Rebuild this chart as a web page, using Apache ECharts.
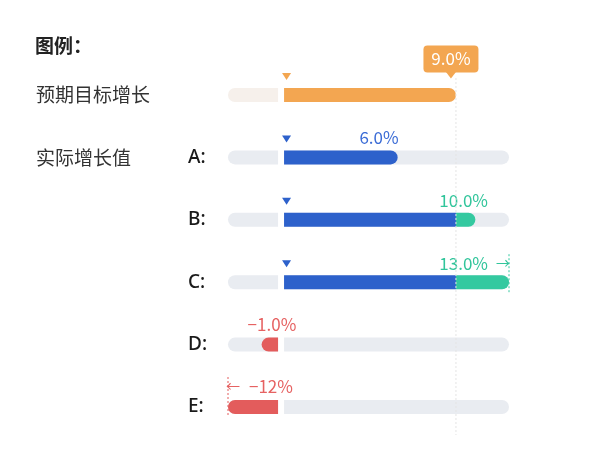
<!DOCTYPE html>
<html>
<head>
<meta charset="utf-8">
<script src="https://cdn.jsdelivr.net/npm/echarts@6/dist/echarts.min.js"></script>
<style>
html,body{margin:0;padding:0;background:#fff;}
#chart{width:600px;height:453px;}
</style>
</head>
<body>
<div id="chart"></div>
<script>
// ---- data ----
const rowNames = ['预期目标增长', 'A', 'B', 'C', 'D', 'E'];
const sideLabels = ['预期目标增长', '实际增长值', '', '', '', ''];
const targetValue = 9.0;
const actualValues = [6.0, 10.0, 13.0, -1.0, -12];
const valueLabels = ['9.0%', '6.0%', '10.0%', '13.0%', '−1.0%', '−12%'];
const axisMin = -2.73;
const axisMax = 11.73;

// ---- styles ----
const FONT = '"Noto Sans CJK SC", "Noto Sans", sans-serif';
const LATIN = '"Noto Sans", "Noto Sans CJK SC", sans-serif';
const C = {
  orange: '#f3a651', beige: '#f6f0eb', track: '#e9ecf1',
  blue: '#2d61cb', green: '#34c9a0', red: '#e35c5c',
  blueText: '#3b6cd6', greenText: '#31c59b', redText: '#e66262',
  guide: '#e4e4e4'
};
const BAR_H = 14, R = 7, GAP = 3;

const seriesData = [[targetValue, 0]].concat(actualValues.map((v, i) => [v, i + 1]));

function renderItem(params, api) {
  const v = api.value(0);
  const row = api.value(1);
  const zc = api.coord([0, row]);
  const zeroX = zc[0], cy = zc[1];
  const xMin = api.coord([axisMin, row])[0];
  const xMax = api.coord([axisMax, row])[0];
  const y0 = cy - BAR_H / 2;
  const shown = Math.max(axisMin, Math.min(axisMax, v));
  const xv = api.coord([shown, row])[0];
  const kids = [];
  const rect = (x1, x2, r, fill, z2) => ({
    type: 'rect', z2: z2 || 1,
    shape: { x: x1, y: y0, width: Math.max(0, x2 - x1), height: BAR_H, r: r },
    style: { fill: fill }
  });
  const tri = (fill) => {
    const tx = zeroX + GAP + 2.5, ty = cy - 18.5;
    return { type: 'polygon', z2: 5, shape: { points: [[tx - 4.5, ty - 3.5], [tx + 4.5, ty - 3.5], [tx, ty + 3.5]] }, style: { fill: fill } };
  };
  const txt = (s, x, y, fill, align, size) => ({
    type: 'text', z2: 20,
    style: { text: s, x: x, y: y, fill: fill, align: align, verticalAlign: 'middle', fontSize: size || 17, fontFamily: FONT }
  });
  const dash = (x, y1, y2, stroke, z2) => ({
    type: 'line', z2: z2 || 30,
    shape: { x1: x, y1: y1, x2: x, y2: y2 },
    style: { stroke: stroke, lineWidth: 1, lineDash: [2, 2] }
  });

  if (row === 0) {
    kids.push(rect(xMin, zeroX - GAP, [R, 0, 0, R], C.beige));
    kids.push(rect(zeroX + GAP, xv, [0, R, R, 0], C.orange, 2));
    kids.push(tri(C.orange));
    const lastY = api.coord([v, rowNames.length - 1])[1];
    kids.push(dash(xv, cy - 17, lastY + 28, C.guide, 40));
    const bx = xv - 5;
    kids.push({ type: 'rect', z2: 50, shape: { x: bx - 27.5, y: cy - 49.5, width: 55, height: 27, r: 4 }, style: { fill: C.orange } });
    kids.push({ type: 'polygon', z2: 50, shape: { points: [[bx - 5, cy - 23], [bx + 5, cy - 23], [bx, cy - 16.5]] }, style: { fill: C.orange } });
    kids.push(Object.assign(txt(valueLabels[0], bx, cy - 36, '#ffffff', 'center', 17), { z2: 60 }));
  } else {
    kids.push(rect(xMin, zeroX - GAP, [R, 0, 0, R], C.track));
    kids.push(rect(zeroX + GAP, xMax, [0, R, R, 0], C.track));
    const label = valueLabels[row];
    if (v >= 0) {
      const xt = api.coord([targetValue, row])[0];
      if (v <= targetValue) {
        kids.push(rect(zeroX + GAP, xv, [0, R, R, 0], C.blue, 2));
        kids.push(txt(label, xv + 1, cy - 20, C.blueText, 'right'));
      } else {
        kids.push(rect(zeroX + GAP, xt, 0, C.blue, 2));
        kids.push(rect(xt, xv, [0, R, R, 0], C.green, 2));
        const lx = Math.min(xv + 14, xMax - 21);
        kids.push(txt(label, lx, cy - 19, C.greenText, 'right'));
        if (v > axisMax) {
          kids.push(txt('→', xv - 6, cy - 20, C.greenText, 'center', 14));
          kids.push(dash(xv, cy - 28, cy + 10, C.green, 30));
        }
      }
      kids.push(tri(C.blue));
    } else {
      kids.push(rect(xv, zeroX - GAP, [R, 0, 0, R], C.red, 2));
      if (v < axisMin) {
        kids.push(txt('←', xv + 5, cy - 21, C.redText, 'center', 14));
        kids.push(txt(label, xv + 21, cy - 20, C.redText, 'left'));
        kids.push(dash(xv, cy - 30, cy + 8, C.red, 30));
      } else {
        kids.push(txt(label, xv - 14, cy - 20, C.redText, 'left'));
      }
    }
  }
  return { type: 'group', children: kids };
}

const chart = echarts.init(document.getElementById('chart'), null, { renderer: 'canvas' });
chart.setOption({
  animation: false,
  backgroundColor: '#ffffff',
  title: {
    text: '图例：', left: 35, top: 36, padding: 0,
    textStyle: { fontSize: 19, fontWeight: 'bold', color: '#222', fontFamily: FONT }
  },
  grid: { left: 228, right: 91, top: 63.8, bottom: 14.8, containLabel: false },
  xAxis: { type: 'value', min: axisMin, max: axisMax, show: false },
  yAxis: [
    {
      type: 'category', data: rowNames, inverse: true,
      axisLine: { show: false }, axisTick: { show: false }, splitLine: { show: false },
      axisLabel: {
        margin: 40, align: 'left', color: '#1a1a1a', fontSize: 19, fontWeight: 500, fontFamily: LATIN,
        formatter: (val, idx) => idx === 0 ? '' : val + ':'
      }
    },
    {
      type: 'category', data: sideLabels, inverse: true, position: 'left',
      axisLine: { show: false }, axisTick: { show: false }, splitLine: { show: false },
      axisLabel: { margin: 192, align: 'left', color: '#333', fontSize: 19, fontFamily: FONT, interval: 0 }
    }
  ],
  series: [{
    type: 'custom', clip: false, yAxisIndex: 0,
    renderItem: renderItem,
    encode: { x: 0, y: 1 },
    data: seriesData
  }]
});
</script>
</body>
</html>
